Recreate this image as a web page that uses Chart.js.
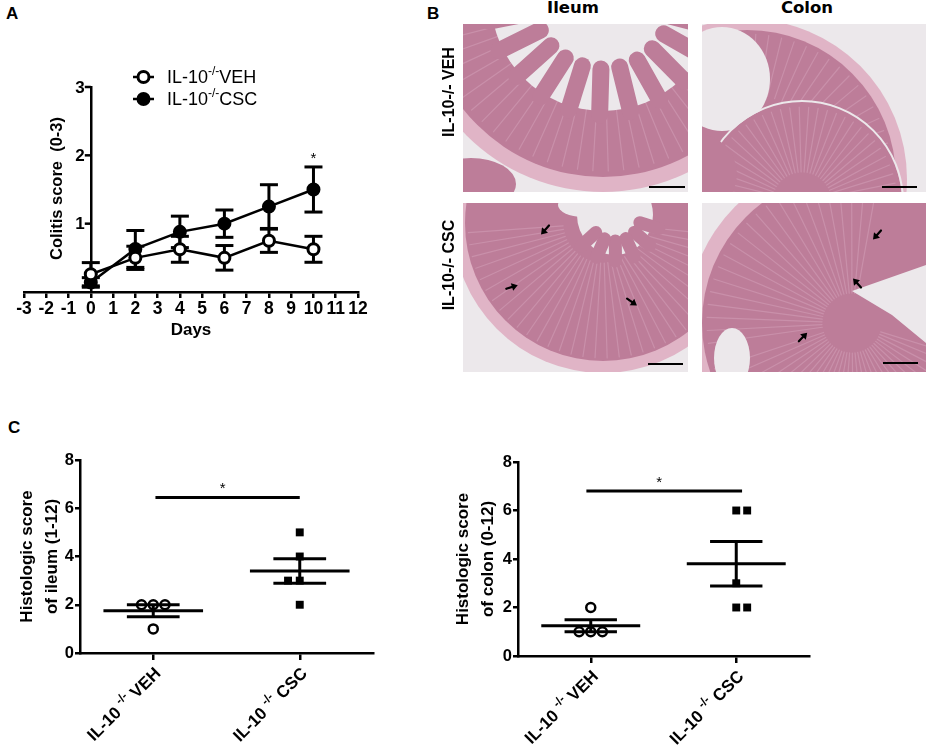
<!DOCTYPE html>
<html>
<head>
<meta charset="utf-8">
<script src="https://cdn.jsdelivr.net/npm/chart.js@4.4.1/dist/chart.umd.min.js"></script>
<style>
  body { margin: 0; background: #fff; }
  #page { position: relative; width: 928px; height: 753px; overflow: hidden; font-family: "Liberation Sans", Arial, sans-serif; }
  .abs { position: absolute; }
  .letter { font-weight: bold; font-size: 17px; }
  .head { font-family: "DejaVu Sans", sans-serif; font-weight: bold; font-size: 16.5px; transform: translateX(-50%); }
  .rowlab { font-weight: bold; font-size: 16px; white-space: nowrap; transform: translate(-50%, -50%) rotate(-90deg); }
</style>
</head>
<body>
<div id="page">
  <div class="abs letter" style="left:6px;top:4px">A</div>
  <div class="abs letter" style="left:427px;top:4px">B</div>
  <div class="abs letter" style="left:8px;top:418px">C</div>

  <canvas id="chartA" class="abs" style="left:0;top:0;width:470px;height:345px"></canvas>

  <div class="abs head" style="left:573px;top:-2px">Ileum</div>
  <div class="abs head" style="left:807px;top:-2px">Colon</div>
  <div class="abs rowlab" style="left:449px;top:92px">IL-10-/- VEH</div>
  <div class="abs rowlab" style="left:449px;top:265px">IL-10-/- CSC</div>
  <canvas id="imgIleumVeh" class="abs" width="225" height="168" style="left:463px;top:24px"></canvas>
  <canvas id="imgColonVeh" class="abs" width="224" height="168" style="left:702px;top:24px"></canvas>
  <canvas id="imgIleumCsc" class="abs" width="225" height="169" style="left:463px;top:203px"></canvas>
  <canvas id="imgColonCsc" class="abs" width="224" height="169" style="left:702px;top:203px"></canvas>

  <canvas id="chartIleum" class="abs" style="left:0;top:400px;width:470px;height:353px"></canvas>
  <canvas id="chartColon" class="abs" style="left:440px;top:400px;width:488px;height:353px"></canvas>
</div>
<script>
const FONT = '"Liberation Sans", Arial, sans-serif';

// ---- panel A: colitis score over time (mean +/- SEM)
const days = [0, 2, 4, 6, 8, 10];
const vehMean = [0.26, 0.5, 0.625, 0.5, 0.75, 0.625];
const vehSem = [0.17, 0.17, 0.19, 0.18, 0.17, 0.19];
const cscMean = [0.14, 0.63, 0.88, 1.0, 1.25, 1.5];
const cscSem = [0.07, 0.27, 0.23, 0.2, 0.32, 0.33];
const dayTicksMin = -3;
const dayTicksMax = 12;
const scoreMax = 3;
const starDay = 10;

// ---- panel C: histologic scores, one value per mouse
const groupLabels = ["VEH", "CSC"];
const groupPos = [1, 3];
const ileumVeh = [2, 2, 2, 1];
const ileumVehSpread = [-0.16, 0, 0.16, 0];
const ileumCsc = [5, 4, 3, 3, 2];
const ileumCscSpread = [0, 0, -0.16, 0, 0];
const colonVeh = [2, 1, 1, 1];
const colonVehSpread = [0, -0.16, 0, 0.16];
const colonCsc = [6, 6, 3, 2, 2];
const colonCscSpread = [0, 0.15, 0, 0, 0.15];
const ileumSigBar = [1.03, 3.0, 6.45];
const colonSigBar = [0.94, 3.08, 6.8];
const histoTicks = [0, 2, 4, 6, 8];

function mean(a) { return a.reduce((s, v) => s + v, 0) / a.length; }
function sem(a) {
  const m = mean(a);
  const sd = Math.sqrt(a.reduce((s, v) => s + (v - m) * (v - m), 0) / (a.length - 1));
  return sd / Math.sqrt(a.length);
}

// text with a raised "-/-" piece
function drawParts(ctx, parts, x, y, align, size, supSize, weight) {
  const fonts = parts.map(p => `${weight} ${p.sup ? supSize : size}px ${FONT}`);
  let total = 0;
  const widths = parts.map((p, i) => { ctx.font = fonts[i]; const w = ctx.measureText(p.t).width; total += w; return w; });
  let cx = align === "right" ? x - total : x;
  ctx.textAlign = "left";
  ctx.textBaseline = "alphabetic";
  parts.forEach((p, i) => {
    ctx.font = fonts[i];
    ctx.fillText(p.t, cx, p.sup ? y + size * 0.36 - size * 0.45 : y + size * 0.36);
    cx += widths[i];
  });
}

function line(ctx, x1, y1, x2, y2) {
  ctx.beginPath(); ctx.moveTo(x1, y1); ctx.lineTo(x2, y2); ctx.stroke();
}

const errorBars = {
  id: "errorBars",
  beforeDatasetsDraw(chart, args, opts) {
    const { ctx, scales: { x, y } } = chart;
    ctx.save();
    ctx.strokeStyle = "#000";
    ctx.lineWidth = 3;
    opts.series.forEach(s => {
      s.mean.forEach((m, i) => {
        const px = x.getPixelForValue(days[i]);
        const top = y.getPixelForValue(m + s.sem[i]);
        const bot = y.getPixelForValue(m - s.sem[i]);
        line(ctx, px, top, px, bot);
        line(ctx, px - 9, top, px + 9, top);
        line(ctx, px - 9, bot, px + 9, bot);
      });
    });
    ctx.restore();
  }
};

const panelADecor = {
  id: "panelADecor",
  afterDraw(chart) {
    const { ctx, scales: { x, y } } = chart;
    // y tick marks and labels, left of the axis that sits at day 0
    const ax = x.getPixelForValue(0);
    ctx.save();
    ctx.strokeStyle = "#000";
    ctx.fillStyle = "#000";
    ctx.lineWidth = 2.5;
    ctx.font = `bold 17px ${FONT}`;
    ctx.textAlign = "right";
    ctx.textBaseline = "middle";
    y.ticks.forEach(t => {
      if (t.value === 0) return;
      const py = y.getPixelForValue(t.value);
      line(ctx, ax - 6, py, ax, py);
      ctx.fillText(String(t.value), ax - 6, py + 1);
    });
    ctx.restore();

    // y title
    ctx.save();
    ctx.fillStyle = "#000";
    ctx.translate(57, (y.top + y.bottom) / 2 - 1);
    ctx.rotate(-Math.PI / 2);
    ctx.font = `bold 16.5px ${FONT}`;
    ctx.textAlign = "center";
    ctx.textBaseline = "middle";
    ctx.fillText("Colitis score  (0-3)", 0, 0);
    ctx.restore();

    // legend
    ctx.save();
    const rows = [{ name: "VEH", fill: "#fff", y: 77 }, { name: "CSC", fill: "#000", y: 99 }];
    rows.forEach(r => {
      ctx.strokeStyle = "#000";
      ctx.lineWidth = 2.5;
      line(ctx, 133, r.y, 154, r.y);
      ctx.beginPath();
      ctx.arc(143.5, r.y, 5.5, 0, Math.PI * 2);
      ctx.fillStyle = r.fill;
      ctx.fill();
      ctx.lineWidth = 3;
      ctx.stroke();
      ctx.fillStyle = "#000";
      drawParts(ctx, [{ t: "IL-10" }, { t: "-/-", sup: true }, { t: r.name }], 167, r.y, "left", 18, 12, "normal");
    });
    // significance star
    const i = days.indexOf(starDay);
    ctx.font = `15px ${FONT}`;
    ctx.textAlign = "center";
    ctx.textBaseline = "alphabetic";
    ctx.fillText("*", x.getPixelForValue(starDay), y.getPixelForValue(cscMean[i] + cscSem[i]) - 4);
    ctx.restore();
  }
};

new Chart(document.getElementById("chartA"), {
  type: "line",
  data: {
    datasets: [
      {
        label: "VEH",
        data: days.map((d, i) => ({ x: d, y: vehMean[i] })),
        borderColor: "#000", borderWidth: 2.5,
        pointRadius: 5.5, pointBorderWidth: 3,
        pointBackgroundColor: "#fff", pointBorderColor: "#000",
        tension: 0, fill: false
      },
      {
        label: "CSC",
        data: days.map((d, i) => ({ x: d, y: cscMean[i] })),
        borderColor: "#000", borderWidth: 2.5,
        pointRadius: 5.5, pointBorderWidth: 3,
        pointBackgroundColor: "#000", pointBorderColor: "#000",
        tension: 0, fill: false
      }
    ]
  },
  options: {
    responsive: false,
    animation: false,
    layout: { padding: { left: 24, right: 112, top: 87, bottom: 0 } },
    plugins: {
      legend: { display: false },
      tooltip: { enabled: false },
      errorBars: { series: [{ mean: cscMean, sem: cscSem }, { mean: vehMean, sem: vehSem }] }
    },
    scales: {
      x: {
        type: "linear", min: dayTicksMin, max: dayTicksMax,
        ticks: { stepSize: 1, autoSkip: false, maxRotation: 0, color: "#000", padding: 1, font: { family: FONT, size: 17.5, weight: "bold" } },
        grid: { drawOnChartArea: false, color: "#000", lineWidth: 2.5, tickLength: 6 },
        border: { color: "#000", width: 2.5 },
        title: { display: true, text: "Days", color: "#000", font: { family: FONT, size: 17, weight: "bold" } },
        afterFit(s) { s.height = 53; }
      },
      y: {
        type: "linear", min: 0, max: scoreMax, position: { x: 0 },
        ticks: { stepSize: 1, display: false },
        grid: { display: false },
        border: { color: "#000", width: 2.5 },
        afterFit(s) { s.width = 0; }
      }
    }
  },
  plugins: [errorBars, panelADecor]
});

// ---- panel C
const groupStats = {
  id: "groupStats",
  afterDatasetsDraw(chart, args, opts) {
    const { ctx, scales: { x, y } } = chart;
    const unit = x.getPixelForValue(1) - x.getPixelForValue(0);
    ctx.save();
    ctx.strokeStyle = "#000";
    ctx.lineWidth = 3;
    opts.groups.forEach((vals, g) => {
      const px = x.getPixelForValue(groupPos[g]);
      const m = mean(vals), e = sem(vals);
      const pm = y.getPixelForValue(m);
      line(ctx, px - 0.68 * unit, pm, px + 0.68 * unit, pm);
      const pt = y.getPixelForValue(m + e), pb = y.getPixelForValue(m - e);
      line(ctx, px, pt, px, pb);
      line(ctx, px - 0.36 * unit, pt, px + 0.36 * unit, pt);
      line(ctx, px - 0.36 * unit, pb, px + 0.36 * unit, pb);
    });
    const [from, to, level] = opts.sig;
    const py = y.getPixelForValue(level);
    line(ctx, x.getPixelForValue(from), py, x.getPixelForValue(to), py);
    ctx.fillStyle = "#000";
    ctx.font = `15px ${FONT}`;
    ctx.textAlign = "center";
    ctx.textBaseline = "alphabetic";
    ctx.fillText("*", x.getPixelForValue((from + to) / 2) - 5, py - 4);
    ctx.restore();
  },
  afterDraw(chart) {
    const { ctx, scales: { x } } = chart;
    ctx.save();
    ctx.fillStyle = "#000";
    x.ticks.forEach((t, i) => {
      ctx.save();
      ctx.translate(x.getPixelForValue(t.value) + 4, x.top + 17);
      ctx.rotate(-Math.PI / 4);
      drawParts(ctx, [{ t: "IL-10 " }, { t: "-/-", sup: true }, { t: " " + groupLabels[i] }], 0, 0, "right", 17, 12, "bold");
      ctx.restore();
    });
    ctx.restore();
  }
};

function histoChart(id, veh, vehSpread, csc, cscSpread, sig, title, pad, yWidth, xHeight, titlePad) {
  new Chart(document.getElementById(id), {
    type: "scatter",
    data: {
      datasets: [
        {
          data: veh.map((v, i) => ({ x: groupPos[0] + vehSpread[i], y: v })),
          pointStyle: "circle", pointRadius: 4.5, pointBorderWidth: 2.5,
          pointBackgroundColor: "#fff", pointBorderColor: "#000"
        },
        {
          data: csc.map((v, i) => ({ x: groupPos[1] + cscSpread[i], y: v })),
          pointStyle: "rect", pointRadius: 5.6, pointBorderWidth: 0,
          pointBackgroundColor: "#000", pointBorderColor: "#000"
        }
      ]
    },
    options: {
      responsive: false,
      animation: false,
      layout: { padding: pad },
      plugins: {
        legend: { display: false },
        tooltip: { enabled: false },
        groupStats: { groups: [veh, csc], sig: sig }
      },
      scales: {
        x: {
          type: "linear", min: 0, max: 4,
          afterBuildTicks(s) { s.ticks = groupPos.map(v => ({ value: v })); },
          ticks: { callback: () => "" },
          grid: { drawOnChartArea: false, color: "#000", lineWidth: 2.5, tickLength: 7 },
          border: { color: "#000", width: 2.5 },
          afterFit(s) { s.height = xHeight; }
        },
        y: {
          type: "linear", min: histoTicks[0], max: histoTicks[histoTicks.length - 1],
          afterBuildTicks(s) { s.ticks = histoTicks.map(v => ({ value: v })); },
          ticks: { color: "#000", padding: 1, font: { family: FONT, size: 16.5, weight: "bold" } },
          grid: { drawOnChartArea: false, color: "#000", lineWidth: 2.5, tickLength: 5 },
          border: { color: "#000", width: 2.5 },
          title: { display: true, text: title, color: "#000", padding: { top: titlePad, bottom: 0 }, font: { family: FONT, size: 17, weight: "bold", lineHeight: 1.45 } },
          afterFit(s) { s.width = yWidth; }
        }
      }
    },
    plugins: [groupStats]
  });
}

histoChart("chartIleum", ileumVeh, ileumVehSpread, ileumCsc, ileumCscSpread, ileumSigBar,
  ["Histologic score", "of ileum (1-12)"], { left: 0, top: 60, right: 97, bottom: 0 }, 80, 100, 15);
histoChart("chartColon", colonVeh, colonVehSpread, colonCsc, colonCscSpread, colonSigBar,
  ["Histologic score", "of colon (0-12)"], { left: 0, top: 62, right: 119, bottom: 0 }, 78, 97, 11);

// ---- panel B: stand-ins for the H&E micrographs
const BG = "#ece8eb", MUSCLE = "#e0b4c6", MUCOSA = "#bd7d99", CRYPT = "#c990aa";
function disc(g, x, y, r, c) { g.beginPath(); g.arc(x, y, r, 0, Math.PI * 2); g.fillStyle = c; g.fill(); }
function ell(g, x, y, rx, ry, c) { g.beginPath(); g.ellipse(x, y, rx, ry, 0, 0, Math.PI * 2); g.fillStyle = c; g.fill(); }
function radial(g, cx, cy, r1, r2, a1, a2, step, c, w) {
  g.strokeStyle = c; g.lineWidth = w; g.lineCap = "round";
  for (let a = a1; a <= a2; a += step) {
    line(g, cx + r1 * Math.cos(a), cy + r1 * Math.sin(a), cx + r2 * Math.cos(a), cy + r2 * Math.sin(a));
  }
}
function arrow(g, x, y, ang) {
  g.save(); g.translate(x, y); g.rotate(ang);
  g.strokeStyle = "#000"; g.fillStyle = "#000"; g.lineWidth = 2.2;
  line(g, -6, 0, 2, 0);
  g.beginPath(); g.moveTo(6, 0); g.lineTo(0, -4); g.lineTo(0, 4); g.closePath(); g.fill();
  g.restore();
}
function scaleBar(g, x1, x2, y) { g.strokeStyle = "#000"; g.lineWidth = 2.2; g.lineCap = "butt"; line(g, x1, y, x2, y); }

(function () {
  let g = document.getElementById("imgIleumVeh").getContext("2d");
  g.fillStyle = BG; g.fillRect(0, 0, 225, 168);
  ell(g, 8, 160, 45, 26, MUCOSA);
  disc(g, 140, -25, 193, MUSCLE);
  disc(g, 140, -25, 178, MUCOSA);
  radial(g, 140, -25, 110, 172, 0.1, 3.1, 0.09, CRYPT, 1.2);
  disc(g, 140, -25, 112, BG);
  radial(g, 140, -25, 70, 116, 0.25, 2.95, 0.27, MUCOSA, 17);
  scaleBar(g, 186, 222, 163);

  g = document.getElementById("imgColonVeh").getContext("2d");
  g.fillStyle = BG; g.fillRect(0, 0, 224, 168);
  disc(g, 45, 155, 160, MUSCLE);
  disc(g, 45, 155, 149, MUCOSA);
  radial(g, 45, 155, 85, 145, -1.6, 0.2, 0.09, CRYPT, 1.2);
  ell(g, 20, 55, 48, 52, BG);
  disc(g, 100, 178, 100, MUCOSA);
  radial(g, 100, 178, 30, 95, -3.1, -0.1, 0.1, CRYPT, 1.2);
  g.strokeStyle = BG; g.lineWidth = 2; g.beginPath(); g.arc(100, 178, 101, Math.PI, 2 * Math.PI); g.stroke();
  disc(g, -5, 150, 40, MUCOSA);
  scaleBar(g, 180, 215, 163);

  g = document.getElementById("imgIleumCsc").getContext("2d");
  g.fillStyle = BG; g.fillRect(0, 0, 225, 169);
  disc(g, 140, 20, 150, MUSCLE);
  disc(g, 140, 20, 138, MUCOSA);
  radial(g, 140, 20, 40, 135, 0.1, 3.1, 0.09, CRYPT, 1.2);
  ell(g, 152, 12, 38, 40, BG);
  ell(g, 120, 2, 25, 12, BG);
  radial(g, 152, 12, 26, 46, 0.3, 2.8, 0.42, MUCOSA, 13);
  arrow(g, 82, 27, 2.3);
  arrow(g, 49, 84, -0.3);
  arrow(g, 169, 99, 0.6);
  scaleBar(g, 185, 220, 161);

  g = document.getElementById("imgColonCsc").getContext("2d");
  g.fillStyle = BG; g.fillRect(0, 0, 224, 169);
  disc(g, 150, 120, 165, MUSCLE);
  disc(g, 150, 120, 150, MUCOSA);
  radial(g, 150, 120, 30, 145, 3.0, 4.9, 0.09, CRYPT, 1.2);
  radial(g, 150, 120, 30, 145, 0.3, 2.9, 0.09, CRYPT, 1.2);
  g.beginPath(); g.moveTo(150, 88); g.lineTo(224, 62); g.lineTo(224, 140); g.lineTo(190, 112); g.closePath();
  g.fillStyle = BG; g.fill();
  ell(g, 30, 155, 18, 30, BG);
  arrow(g, 175, 32, 2.3);
  arrow(g, 155, 80, -2.3);
  arrow(g, 101, 134, -0.8);
  scaleBar(g, 181, 216, 160);
})();
</script>
</body>
</html>
